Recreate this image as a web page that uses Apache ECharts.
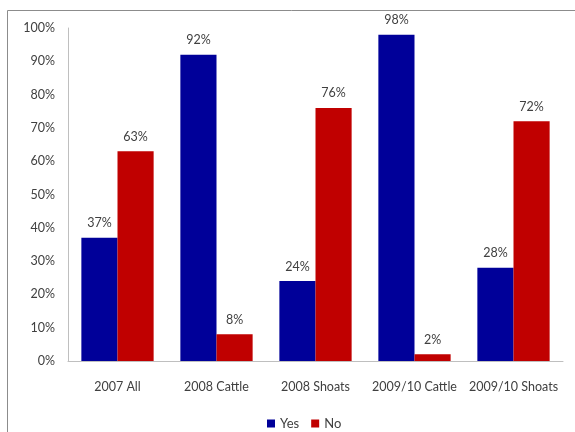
<!DOCTYPE html>
<html>
<head>
<meta charset="utf-8">
<script src="https://cdn.jsdelivr.net/npm/echarts@6/dist/echarts.min.js"></script>
<style>
  html, body { margin: 0; padding: 0; background: #fff; }
</style>
</head>
<body>
<div id="chart" style="width: 575px; height: 432px;"></div>
<script>
// chart data
const categories = ['2007 All', '2008 Cattle', '2008 Shoats', '2009/10 Cattle', '2009/10 Shoats'];
const yesValues = [37, 92, 24, 98, 28];
const noValues = [63, 8, 76, 2, 72];
const yTicks = [0, 10, 20, 30, 40, 50, 60, 70, 80, 90, 100];

const textColor = '#404040';
const fontFamily = 'Lato, "Open Sans", sans-serif';

const chart = echarts.init(document.getElementById('chart'));

const makeSeries = (name, data, color) => ({
  name: name,
  type: 'bar',
  data: data,
  barGap: '0%',
  barCategoryGap: '27%',
  itemStyle: {color: color},
  label: {
    show: true,
    position: 'top',
    distance: 8,
    formatter: '{c}%',
    color: textColor,
    fontSize: 12.5,
    fontFamily: fontFamily
  }
});

const option = {
  animation: false,
  graphic: [{
    type: 'rect',
    shape: {x: 7.5, y: 10.5, width: 620, height: 480},
    style: {fill: 'none', stroke: '#8c8c8c', lineWidth: 1}
  }],
  legend: {
    data: ['Yes', 'No'],
    bottom: -3,
    left: 262,
    itemWidth: 8,
    itemHeight: 8,
    itemGap: 12,
    icon: 'rect',
    textStyle: {color: textColor, fontSize: 13, fontFamily: fontFamily}
  },
  grid: {left: 68, right: 12, top: 28, bottom: 71},
  xAxis: {
    type: 'category',
    data: categories,
    axisLine: {lineStyle: {color: '#bfbfbf'}},
    axisTick: {show: false},
    axisLabel: {color: textColor, fontSize: 12.5, fontFamily: fontFamily, margin: 19, interval: 0}
  },
  yAxis: {
    type: 'value',
    min: yTicks[0],
    max: yTicks[yTicks.length - 1],
    interval: 10,
    axisLine: {show: true, lineStyle: {color: '#bfbfbf'}},
    axisTick: {show: false},
    splitLine: {show: false},
    axisLabel: {color: textColor, fontSize: 12.5, fontFamily: fontFamily, margin: 13, formatter: '{value}%'}
  },
  series: [
    makeSeries('Yes', yesValues, '#000099'),
    makeSeries('No', noValues, '#c00000')
  ]
};

chart.setOption(option);
</script>
</body>
</html>
